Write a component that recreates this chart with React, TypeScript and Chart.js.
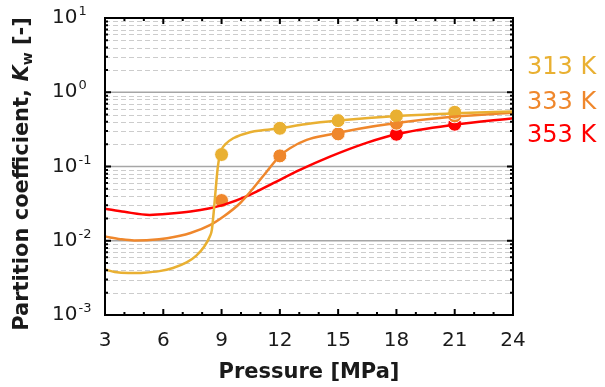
import React, { useEffect, useRef } from "react";
import { Chart, registerables } from "chart.js";

Chart.register(...registerables);

// ---- data ----
const pressureTicks = [3, 6, 9, 12, 15, 18, 21, 24];
const decadeExponents = [-3, -2, -1, 0, 1];
const seriesLabels = ["313 K", "333 K", "353 K"];
const seriesColors = ["#E9B032", "#EF872C", "#FF0000"];

const points313P = [9, 12, 15, 18, 21];
const points313K = [0.145, 0.327, 0.415, 0.48, 0.537];
const points333P = [9, 12, 15, 18, 21];
const points333K = [0.0348, 0.139, 0.275, 0.383, 0.48];
const points353P = [18, 21];
const points353K = [0.272, 0.371];

const curve313P = [3, 3.5, 4.2, 5, 5.8, 6.5, 7.2, 7.7, 8.1, 8.4, 8.5, 8.6, 8.7, 8.8, 8.9, 9.0, 9.2, 9.6, 10.46, 11.2, 12, 13.3, 15, 18, 21, 24];
const curve313K = [0.0041, 0.0038, 0.00368, 0.00372, 0.0039, 0.0043, 0.0051, 0.0063, 0.0083, 0.0115, 0.014, 0.025, 0.05, 0.095, 0.14, 0.17, 0.2, 0.24, 0.29, 0.31, 0.327, 0.37, 0.415, 0.48, 0.52, 0.55];
const curve333P = [3, 3.8, 4.5, 5.3, 6.2, 7.4, 8.4, 9.1, 9.95, 10.63, 11.32, 12, 12.52, 13.38, 14.58, 16, 18, 21, 24];
const curve333K = [0.0114, 0.0105, 0.0101, 0.0102, 0.0108, 0.0127, 0.0162, 0.0212, 0.032, 0.051, 0.085, 0.139, 0.176, 0.228, 0.27, 0.32, 0.385, 0.47, 0.53];
const curve353P = [3, 4, 5.3, 6.4, 7.4, 8.4, 9.1, 10.46, 11.66, 13.03, 14.58, 16.5, 18, 21, 24];
const curve353K = [0.027, 0.0245, 0.0223, 0.0232, 0.0247, 0.0274, 0.0304, 0.0415, 0.0596, 0.09, 0.136, 0.21, 0.272, 0.365, 0.447];

const zip = (xs: number[], ys: number[]) => xs.map((x, i) => ({ x, y: ys[i] }));

const FONT = "'DejaVu Sans', Verdana, sans-serif";

const customPlugin = {
  id: "customDraw",
  beforeDatasetsDraw(chart: any) {
    const { ctx, chartArea: a, scales } = chart;
    const ys = scales.y;
    ctx.save();
    ctx.lineWidth = 1;
    ctx.strokeStyle = "#cccccc";
    ctx.setLineDash([5, 3]);
    for (let e = -3; e < 1; e++) {
      for (let m = 2; m <= 9; m++) {
        const y = Math.round(ys.getPixelForValue(m * Math.pow(10, e))) + 0.5;
        ctx.beginPath();
        ctx.moveTo(a.left, y);
        ctx.lineTo(a.right, y);
        ctx.stroke();
      }
    }
    ctx.setLineDash([]);
    ctx.strokeStyle = "#a6a6a6";
    ctx.lineWidth = 1.5;
    for (const e of [-2, -1, 0]) {
      const y = ys.getPixelForValue(Math.pow(10, e));
      ctx.beginPath();
      ctx.moveTo(a.left, y);
      ctx.lineTo(a.right, y);
      ctx.stroke();
    }
    ctx.restore();
  },
  afterDatasetsDraw(chart: any) {
    const { ctx, chartArea: a, scales } = chart;
    const xs = scales.x;
    const ys = scales.y;
    ctx.save();
    ctx.strokeStyle = "#000";
    ctx.lineWidth = 2;
    for (let p = 3; p <= 24; p++) {
      const x = xs.getPixelForValue(p);
      const len = pressureTicks.includes(p) ? 6 : 3;
      ctx.beginPath();
      ctx.moveTo(x, a.bottom);
      ctx.lineTo(x, a.bottom - len);
      ctx.moveTo(x, a.top);
      ctx.lineTo(x, a.top + len);
      ctx.stroke();
    }
    for (let e = -3; e <= 0; e++) {
      for (let m = 1; m <= 9; m++) {
        const y = ys.getPixelForValue(m * Math.pow(10, e));
        const len = m === 1 ? 6 : 3;
        ctx.beginPath();
        ctx.moveTo(a.left, y);
        ctx.lineTo(a.left + len, y);
        ctx.moveTo(a.right, y);
        ctx.lineTo(a.right - len, y);
        ctx.stroke();
      }
    }
    ctx.lineWidth = 2;
    ctx.strokeRect(a.left, a.top, a.right - a.left, a.bottom - a.top);

    // x tick labels
    ctx.fillStyle = "#1a1a1a";
    ctx.font = `20px ${FONT}`;
    ctx.textAlign = "center";
    ctx.textBaseline = "middle";
    for (const p of pressureTicks) {
      ctx.fillText(String(p), xs.getPixelForValue(p), a.bottom + 26);
    }
    // y tick labels with superscripts
    for (const e of decadeExponents) {
      const y = ys.getPixelForValue(Math.pow(10, e));
      ctx.font = `20px ${FONT}`;
      ctx.textAlign = "left";
      ctx.textBaseline = "middle";
      ctx.fillText("10", 52, y);
      const w = ctx.measureText("10").width;
      ctx.font = `13px ${FONT}`;
      ctx.textBaseline = "alphabetic";
      ctx.fillText(e < 0 ? "-" + Math.abs(e) : String(e), 52 + w + 1, y - 3);
    }
    // x title
    ctx.font = `bold 21px ${FONT}`;
    ctx.textAlign = "center";
    ctx.textBaseline = "middle";
    ctx.fillStyle = "#1a1a1a";
    ctx.fillText("Pressure [MPa]", (a.left + a.right) / 2, 373);

    // y title
    const parts = [
      { t: "Partition coefficient, ", f: `bold 21px ${FONT}`, dy: 0 },
      { t: "K", f: `italic bold 21px ${FONT}`, dy: 0 },
      { t: "w", f: `bold 14px ${FONT}`, dy: 5 },
      { t: " [-]", f: `bold 21px ${FONT}`, dy: 0 },
    ];
    let total = 0;
    for (const p of parts) {
      ctx.font = p.f;
      total += ctx.measureText(p.t).width;
    }
    ctx.translate(23, 174);
    ctx.rotate(-Math.PI / 2);
    ctx.textAlign = "left";
    ctx.textBaseline = "middle";
    let cx = -total / 2;
    for (const p of parts) {
      ctx.font = p.f;
      ctx.fillText(p.t, cx, p.dy);
      cx += ctx.measureText(p.t).width;
    }
    ctx.setTransform(1, 0, 0, 1, 0, 0);

    // legend labels
    ctx.font = `24px ${FONT}`;
    ctx.textAlign = "left";
    ctx.textBaseline = "middle";
    const legY = [68, 103, 136];
    seriesLabels.forEach((l, i) => {
      ctx.fillStyle = seriesColors[i];
      ctx.fillText(l, 527, legY[i]);
    });
    ctx.restore();
  },
};

export default function App() {
  const ref = useRef<HTMLCanvasElement>(null);
  useEffect(() => {
    if (!ref.current) return;
    const lineDs = (p: number[], k: number[], c: string) => ({
      type: "line" as const,
      data: zip(p, k),
      borderColor: c,
      borderWidth: 2.5,
      pointRadius: 0,
      fill: false,
      cubicInterpolationMode: "monotone" as const,
    });
    const ptDs = (p: number[], k: number[], c: string) => ({
      type: "scatter" as const,
      data: zip(p, k),
      backgroundColor: c,
      borderColor: "#ffffff",
      borderWidth: 1,
      pointRadius: 7,
      showLine: false,
    });
    const chart = new Chart(ref.current, {
      type: "line",
      data: {
        datasets: [
          lineDs(curve313P, curve313K, seriesColors[0]),
          lineDs(curve333P, curve333K, seriesColors[1]),
          lineDs(curve353P, curve353K, seriesColors[2]),
          ptDs(points313P, points313K, seriesColors[0]),
          ptDs(points333P, points333K, seriesColors[1]),
          ptDs(points353P, points353K, seriesColors[2]),
        ] as any,
      },
      options: {
        animation: false,
        responsive: false,
        layout: { padding: { left: 105, right: 92, top: 18, bottom: 72 } },
        plugins: { legend: { display: false }, tooltip: { enabled: false } },
        scales: {
          x: { type: "linear", min: 3, max: 24, display: false },
          y: { type: "logarithmic", min: 0.001, max: 10, display: false },
        },
      },
      plugins: [customPlugin],
    });
    return () => chart.destroy();
  }, []);
  return (
    <div style={{ position: "fixed", left: 0, top: 0, width: 605, height: 387, background: "#fff" }}>
      <canvas ref={ref} width={605} height={387} style={{ width: 605, height: 387 }} />
    </div>
  );
}
